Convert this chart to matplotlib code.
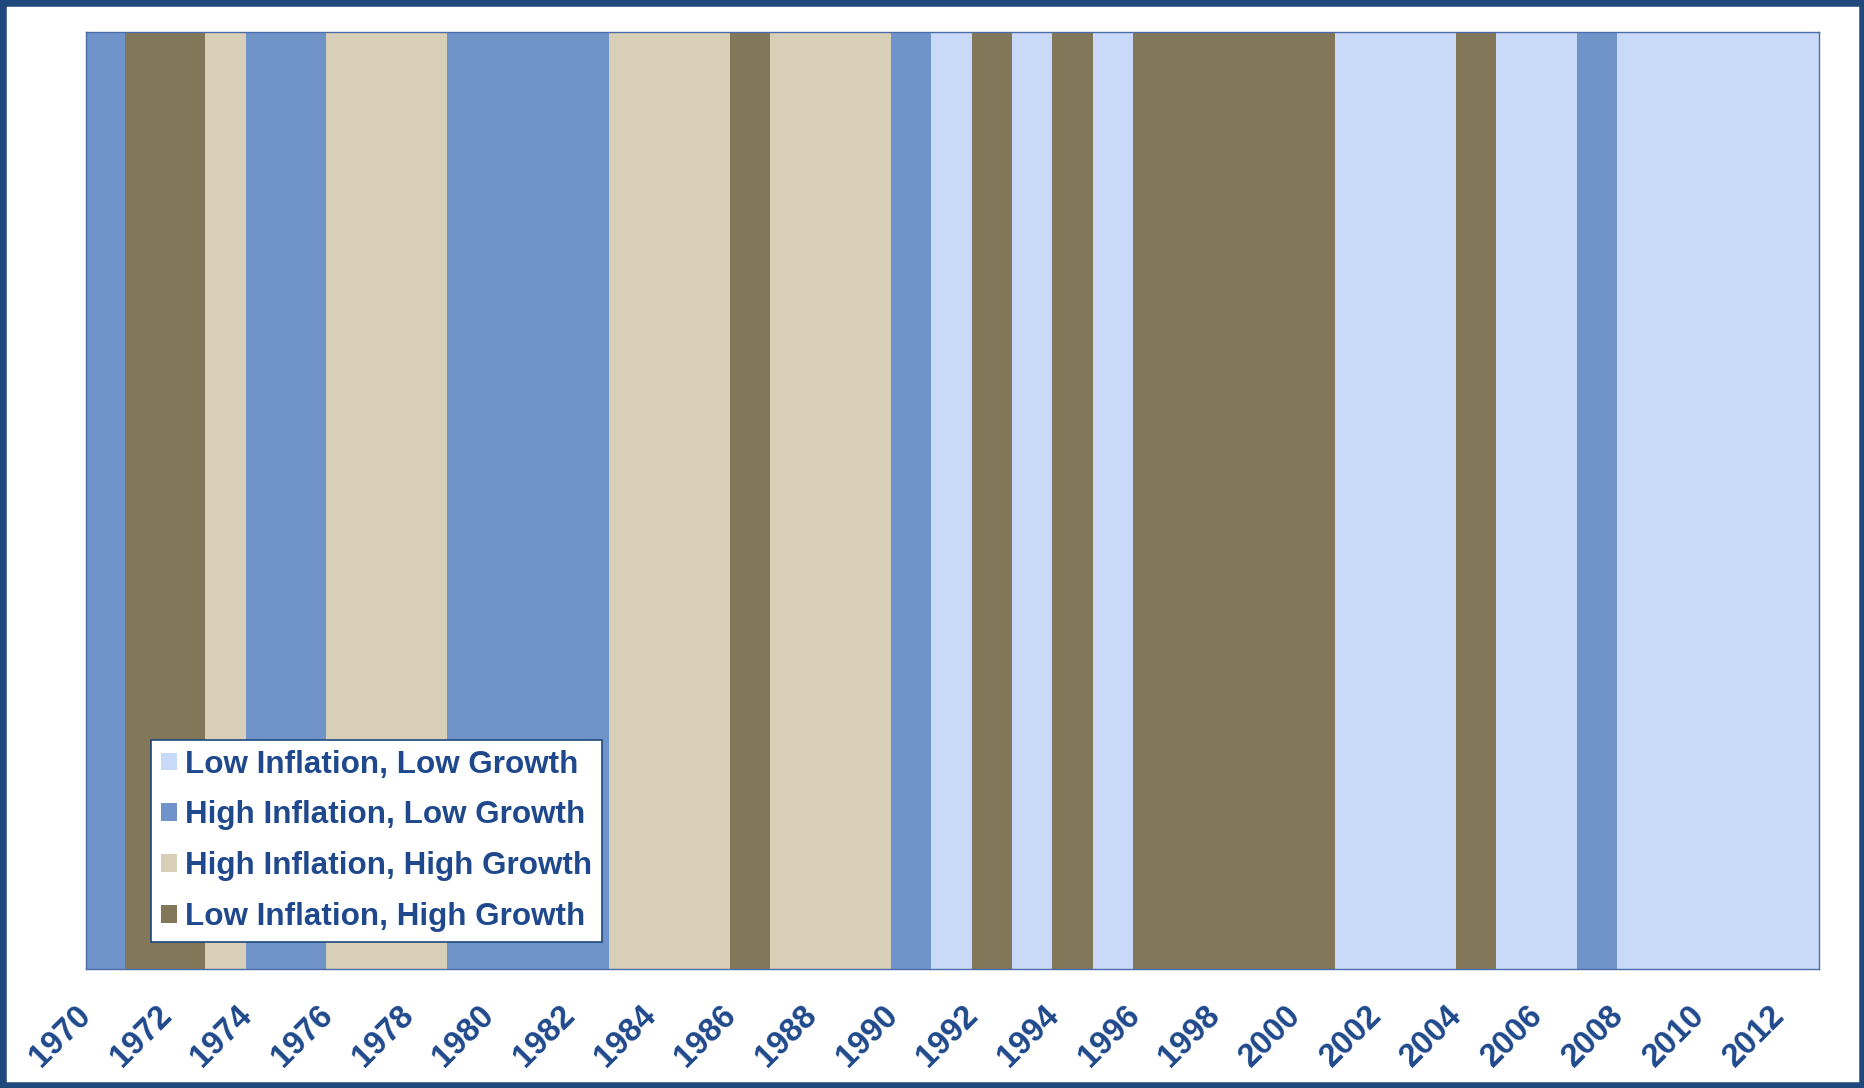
#!/usr/bin/env python3
"""Inflation / growth regimes, 1970-2012, as coloured vertical bands."""
import matplotlib
matplotlib.use('Agg')
import matplotlib.pyplot as plt
from matplotlib.patches import Patch, Rectangle

plt.rcParams['font.family'] = ['Liberation Sans', 'DejaVu Sans']

# ── Data ─────────────────────────────────────────────────────────────
regime_names = ['Low Inflation, Low Growth', 'High Inflation, Low Growth',
                'High Inflation, High Growth', 'Low Inflation, High Growth']
regime_colors = ['#C9DAF8', '#7094CA', '#D7CFB7', '#827759']

# each period: first year, year after last, regime index
period_start = [1970, 1971, 1973, 1974, 1976, 1979, 1983, 1986, 1987, 1990, 1991,
                1992, 1993, 1994, 1995, 1996, 2001, 2004, 2005, 2007, 2008]
period_end = [1971, 1973, 1974, 1976, 1979, 1983, 1986, 1987, 1990, 1991, 1992,
              1993, 1994, 1995, 1996, 2001, 2004, 2005, 2007, 2008, 2013]
period_regime = [1, 3, 2, 1, 2, 1, 2, 3, 2, 1, 0,
                 3, 0, 3, 0, 3, 0, 3, 0, 1, 0]

tick_years = [1970, 1972, 1974, 1976, 1978, 1980, 1982, 1984, 1986, 1988, 1990,
              1992, 1994, 1996, 1998, 2000, 2002, 2004, 2006, 2008, 2010, 2012]

TEXT = '#1F498C'
FRAME = '#1F497D'

fig = plt.figure(figsize=(18.65, 10.88), dpi=100)
ax = fig.add_axes([0.0461, 0.1094, 0.9292, 0.8612])

widths = [e - s for s, e in zip(period_start, period_end)]
ax.bar(period_start, [1] * len(period_start), width=widths, align='edge',
       color=[regime_colors[r] for r in period_regime], linewidth=0)

ax.set_xlim(1970.083, 2013.0)
ax.set_ylim(0, 1)
ax.set_yticks([])
ax.set_xticks([y + 1 / 24 for y in tick_years])
ax.set_xticklabels([str(y) for y in tick_years], rotation=45, ha='right',
                   va='center', rotation_mode='anchor', fontsize=23.5,
                   fontweight='bold', color=TEXT)
ax.tick_params(axis='x', length=0, pad=30)
for sp in ax.spines.values():
    sp.set_color('#4A6CA8')
    sp.set_linewidth(1.0)

handles = [Patch(facecolor=c, edgecolor='none') for c in regime_colors]
leg = ax.legend(handles, regime_names, loc='lower left', bbox_to_anchor=(0.0375, 0.029),
                borderaxespad=0, fancybox=False, framealpha=1, edgecolor=FRAME,
                prop={'size': 22.6, 'weight': 'bold'}, handlelength=0.5,
                handleheight=0.5, handletextpad=0.25, labelspacing=0.66,
                borderpad=0.32)
leg.get_frame().set_linewidth(1.2)
for t in leg.get_texts():
    t.set_color(TEXT)

# outer frame of the figure
fig.patches.append(Rectangle((0, 0), 1, 1, transform=fig.transFigure, fill=False,
                             edgecolor=FRAME, linewidth=9))

fig.savefig('out.png', dpi=100, facecolor='white')
